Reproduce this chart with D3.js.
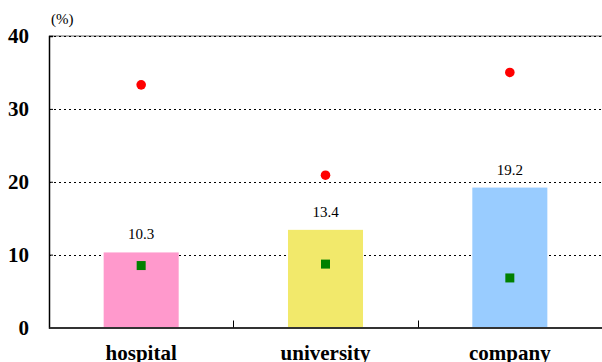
<!DOCTYPE html>
<html><head><meta charset="utf-8">
<script src="https://cdn.jsdelivr.net/npm/d3@7"></script>
<style>body{margin:0;background:#fff}svg{display:block}
svg text{font-family:"Liberation Serif","Times New Roman",Times,serif !important;}
</style>
</head><body>
<svg id="c" width="602" height="362"></svg>
<script>
const categories = ["hospital", "university", "company"];
const barValues = [10.3, 13.4, 19.2];
const redValues = [33.3, 20.9, 35.0];
const greenValues = [8.5, 8.7, 6.8];
const barColors = ["#FF99CC", "#F2E96B", "#99CCFF"];
const yTicks = [0, 10, 20, 30, 40];

const svg = d3.select("#c");
const mLeft = 49, mRight = 602, mTop = 36, mBottom = 327.5;
const x = d3.scaleBand().domain(categories).range([mLeft, mRight]).padding(0);
const y = d3.scaleLinear().domain([0, 40]).range([mBottom, mTop]);
const barW = x.bandwidth() * 0.407;

// gridlines
svg.append("line").attr("x1", mLeft).attr("x2", mRight).attr("y1", y(40)).attr("y2", y(40))
  .attr("stroke", "#999").attr("stroke-width", 1.5);
svg.append("g").selectAll("line").data(yTicks.filter(d => d > 0)).join("line")
  .attr("x1", mLeft).attr("x2", mRight)
  .attr("y1", d => Math.round(y(d)) + 0.5).attr("y2", d => Math.round(y(d)) + 0.5)
  .attr("stroke", "#000").attr("stroke-width", 1).attr("stroke-dasharray", "2,3");

// bars
svg.append("g").selectAll("rect").data(categories).join("rect")
  .attr("x", d => x(d) + (x.bandwidth() - barW) / 2)
  .attr("width", barW)
  .attr("y", (d, i) => y(barValues[i]))
  .attr("height", (d, i) => y(0) - y(barValues[i]))
  .attr("fill", (d, i) => barColors[i]);

// value labels
svg.append("g").selectAll("text").data(categories).join("text")
  .attr("x", d => x(d) + x.bandwidth() / 2)
  .attr("y", (d, i) => y(barValues[i]) - 13)
  .attr("text-anchor", "middle")
  .attr("font-size", 15).attr("fill", "#000")
  .text((d, i) => barValues[i].toFixed(1));

// green squares
svg.append("g").selectAll("rect").data(categories).join("rect")
  .attr("x", d => x(d) + x.bandwidth() / 2 - 4.5)
  .attr("y", (d, i) => y(greenValues[i]) - 4.5)
  .attr("width", 9).attr("height", 9)
  .attr("fill", "#008000");

// red dots
svg.append("g").selectAll("circle").data(categories).join("circle")
  .attr("cx", d => x(d) + x.bandwidth() / 2)
  .attr("cy", (d, i) => y(redValues[i]))
  .attr("r", 4.8)
  .attr("fill", "#FF0000");

// y axis
const yAxis = d3.axisLeft(y).tickValues(yTicks).tickSize(-4).tickPadding(20);
const yg = svg.append("g").attr("transform", `translate(${mLeft},0)`).call(yAxis);
yg.select(".domain").attr("stroke", "#000").attr("stroke-width", 1.5);
yg.selectAll(".tick line").attr("stroke", "#000");
yg.selectAll(".tick text")
  .attr("font-size", 21).attr("font-weight", "bold").attr("fill", "#000");

// x axis
const xAxis = d3.axisBottom(x).tickSize(0).tickPadding(18);
const xg = svg.append("g").attr("transform", `translate(0,${mBottom})`).call(xAxis);
xg.select(".domain").attr("stroke", "#333").attr("stroke-width", 2);
xg.selectAll(".tick text")
  .attr("font-size", 21).attr("font-weight", "bold").attr("fill", "#000")
  .attr("dy", "0.71em");
// boundary ticks
svg.append("g").selectAll("line").data(categories.slice(1)).join("line")
  .attr("x1", d => Math.round(x(d)) + 0.5).attr("x2", d => Math.round(x(d)) + 0.5)
  .attr("y1", mBottom).attr("y2", mBottom - 7)
  .attr("stroke", "#000").attr("stroke-width", 1);

// unit label
svg.append("text").attr("x", 51).attr("y", 24)
  .attr("font-size", 15).attr("fill", "#000").text("(%)");
</script>
</body></html>
